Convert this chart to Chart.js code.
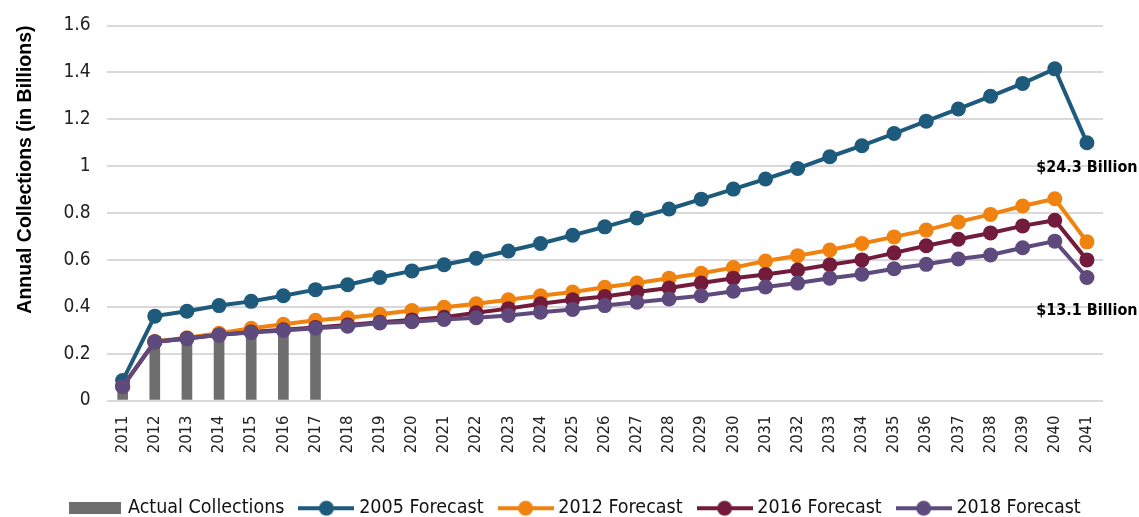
<!DOCTYPE html>
<html>
<head>
<meta charset="utf-8">
<script src="https://cdn.jsdelivr.net/npm/chart.js@4/dist/chart.umd.min.js"></script>
<style>
  html, body { margin: 0; padding: 0; background: #fff; }
  #wrap { width: 1139px; height: 517px; }
</style>
</head>
<body>
<div id="wrap"><canvas id="chart"></canvas></div>
<script>
const years = ["2011", "2012", "2013", "2014", "2015", "2016", "2017", "2018", "2019", "2020",
    "2021", "2022", "2023", "2024", "2025", "2026", "2027", "2028", "2029", "2030",
    "2031", "2032", "2033", "2034", "2035", "2036", "2037", "2038", "2039", "2040", "2041"];

const actualCollections = [0.06, 0.25, 0.265, 0.28, 0.29, 0.30, 0.31];

const forecast2005 = [0.085, 0.36, 0.381, 0.405, 0.423, 0.447, 0.473, 0.494, 0.525, 0.553,
    0.579, 0.607, 0.638, 0.67, 0.705, 0.741, 0.779, 0.817, 0.859, 0.902,
    0.945, 0.99, 1.04, 1.087, 1.139, 1.192, 1.244, 1.298, 1.353, 1.415, 1.10];

const forecast2012 = [0.06, 0.252, 0.268, 0.287, 0.308, 0.325, 0.342, 0.353, 0.368, 0.384,
    0.398, 0.413, 0.43, 0.447, 0.463, 0.483, 0.501, 0.522, 0.543, 0.567,
    0.595, 0.618, 0.642, 0.67, 0.698, 0.727, 0.762, 0.794, 0.83, 0.861, 0.677];

const forecast2016 = [0.06, 0.25, 0.265, 0.28, 0.292, 0.302, 0.312, 0.322, 0.334, 0.344,
    0.355, 0.374, 0.392, 0.413, 0.43, 0.444, 0.463, 0.48, 0.501, 0.522,
    0.538, 0.557, 0.579, 0.6, 0.63, 0.66, 0.688, 0.715, 0.745, 0.769, 0.6];

const forecast2018 = [0.059, 0.251, 0.265, 0.28, 0.29, 0.299, 0.308, 0.317, 0.331, 0.336,
    0.346, 0.353, 0.363, 0.377, 0.388, 0.405, 0.419, 0.433, 0.447, 0.466,
    0.484, 0.501, 0.522, 0.539, 0.562, 0.581, 0.604, 0.621, 0.652, 0.68, 0.525];

const endLabels = ["$24.3 Billion", "$13.1 Billion"];

const narrow = "'DejaVu Sans Condensed', 'Liberation Sans Narrow', sans-serif";
const regular = "'Liberation Sans', Arial, sans-serif";

const colors = {
    actual: "#6e6e6e",
    f2005: "#1d5a7c",
    f2012: "#f0830f",
    f2016: "#731b3b",
    f2018: "#5e4a7d",
};

// little legend pictures: a wide gray block for the bars, line + dot for the forecasts
const barIcon = () => {
    const c = document.createElement("canvas");
    c.width = 52; c.height = 12;
    const ctx = c.getContext("2d");
    ctx.fillStyle = colors.actual;
    ctx.fillRect(0, 0, 52, 12);
    return c;
};

const lineIcon = (color) => {
    const c = document.createElement("canvas");
    c.width = 56; c.height = 18;
    const ctx = c.getContext("2d");
    ctx.strokeStyle = color;
    ctx.lineWidth = 4;
    ctx.beginPath();
    ctx.moveTo(0, 9);
    ctx.lineTo(56, 9);
    ctx.stroke();
    ctx.fillStyle = color;
    ctx.beginPath();
    ctx.arc(28, 9, 7.5, 0, Math.PI * 2);
    ctx.fill();
    return c;
};

const lineSet = (label, data, color, order) => ({
    type: "line",
    label: label,
    data: data,
    borderColor: color,
    backgroundColor: color,
    borderWidth: 4,
    pointRadius: 7.5,
    pointHoverRadius: 7.5,
    pointBorderWidth: 0,
    tension: 0,
    order: order,
});

const endLabelPlugin = {
    id: "endLabels",
    afterDatasetsDraw(chart, args, opts) {
        const ctx = chart.ctx;
        ctx.save();
        ctx.font = "bold 16px " + narrow;
        ctx.fillStyle = "#000";
        ctx.textAlign = "center";
        ctx.textBaseline = "middle";
        opts.items.forEach((item, i) => {
            const meta = chart.getDatasetMeta(item.dataset);
            const pt = meta.data[meta.data.length - 1];
            ctx.fillText(endLabels[i], pt.x, pt.y + item.offset);
        });
        ctx.restore();
    },
};

// the legend row is centred on the whole page, not on the padded chart box
const legendShift = {
    id: "legendShift",
    afterLayout(chart) {
        chart.legend.left += 18;
        chart.legend.right += 18;
    },
};

const myChart = new Chart(document.getElementById("chart"), {
    type: "bar",
    plugins: [endLabelPlugin, legendShift],
    data: {
        labels: years,
        datasets: [
            {
                type: "bar",
                label: "Actual Collections",
                data: actualCollections,
                backgroundColor: colors.actual,
                barThickness: 10,
                order: 5,
            },
            lineSet("2005 Forecast", forecast2005, colors.f2005, 4),
            lineSet("2012 Forecast", forecast2012, colors.f2012, 3),
            lineSet("2016 Forecast", forecast2016, colors.f2016, 2),
            lineSet("2018 Forecast", forecast2018, colors.f2018, 1),
        ],
    },
    options: {
        responsive: true,
        maintainAspectRatio: false,
        animation: false,
        layout: { autoPadding: false, padding: { left: 14, right: 36, top: 22, bottom: -11 } },
        scales: {
            x: {
                offset: true,
                grid: { display: false, drawTicks: false },
                border: { display: false },
                ticks: {
                    color: "#222",
                    font: { family: narrow, size: 16.5 },
                    minRotation: 90,
                    maxRotation: 90,
                    autoSkip: false,
                    padding: 15,
                },
                // leave room under the year labels so the legend sits low
                afterFit: (scale) => { scale.height = 79; },
            },
            y: {
                min: 0,
                max: 1.6,
                grid: { color: "#d9d9d9", lineWidth: 2, drawTicks: false },
                border: { display: false },
                ticks: {
                    stepSize: 0.2,
                    color: "#222",
                    padding: 16,
                    font: { family: narrow, size: 19, lineHeight: 1 },
                    callback: (v) => String(+v.toFixed(1)),
                },
                title: {
                    display: true,
                    align: "end",
                    text: "Annual Collections (in Billions)",
                    color: "#000",
                    font: { family: regular, size: 19.5, weight: "bold" },
                    padding: { top: 0, bottom: 10 },
                },
            },
        },
        plugins: {
            tooltip: { enabled: false },
            endLabels: {
                items: [
                    { dataset: 1, offset: 25 },
                    { dataset: 4, offset: 33 },
                ],
            },
            legend: {
                position: "bottom",
                labels: {
                    color: "#111",
                    font: { family: narrow, size: 19.5 },
                    usePointStyle: true,
                    pointStyleWidth: 46,
                    padding: 19,
                    generateLabels: (chart) => {
                        const icons = [barIcon(), lineIcon(colors.f2005), lineIcon(colors.f2012),
                            lineIcon(colors.f2016), lineIcon(colors.f2018)];
                        return chart.data.datasets.map((ds, i) => ({
                            text: ds.label,
                            pointStyle: icons[i],
                            fillStyle: ds.backgroundColor,
                            strokeStyle: ds.backgroundColor,
                            lineWidth: 0,
                            hidden: false,
                            datasetIndex: i,
                            fontColor: "#111",
                        }));
                    },
                },
            },
        },
    },
});
</script>
</body>
</html>
